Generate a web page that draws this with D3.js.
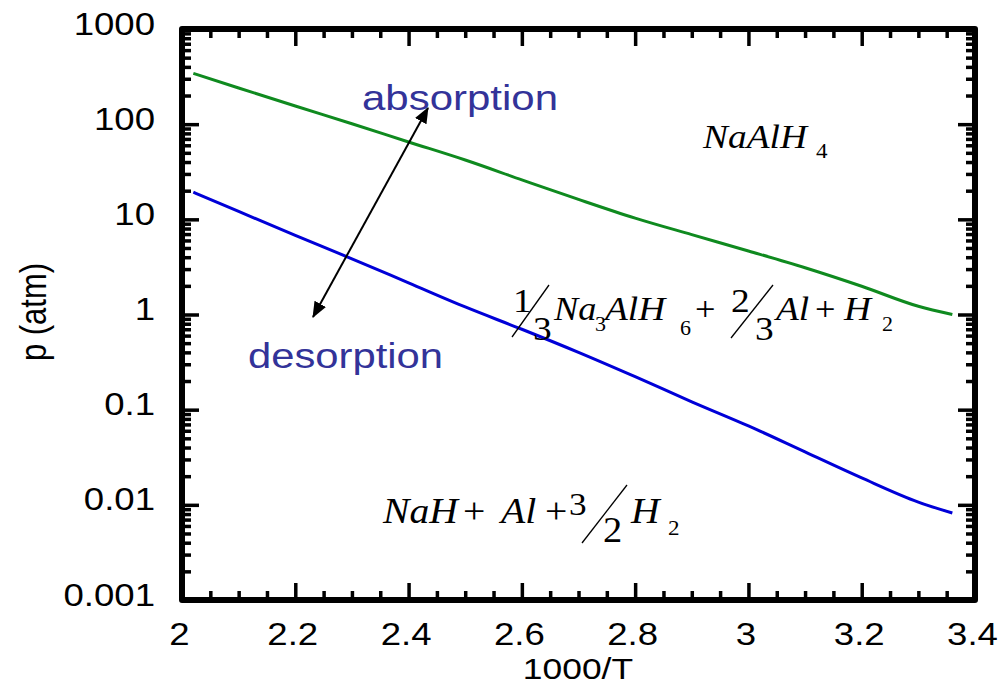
<!DOCTYPE html>
<html><head><meta charset="utf-8">
<script src="https://cdn.jsdelivr.net/npm/d3@7"></script>
<style>
html,body{margin:0;padding:0;background:#fff;}
text{font-family:"Liberation Sans",Arial,sans-serif;}
text.serif{font-family:"Liberation Serif","Times New Roman",Times,serif;font-weight:normal;}
</style></head>
<body><svg id="c" width="1003" height="686"></svg>
<script>
// ---- data ----
const invT = [2.02, 2.1, 2.2, 2.3, 2.4, 2.5, 2.6, 2.7, 2.8, 2.9, 3.0, 3.1, 3.2, 3.3, 3.36];
const pAbsorb = [342, 240, 155, 101, 65, 42, 26, 16.2, 10.3, 6.9, 4.65, 3.1, 1.98, 1.22, 1.0];
const pDesorb = [19.3, 12.1, 6.8, 3.85, 2.15, 1.2, 0.70, 0.40, 0.222, 0.121, 0.0675, 0.0360, 0.0192, 0.0107, 0.0082];
const xTicks = [2, 2.2, 2.4, 2.6, 2.8, 3, 3.2, 3.4];
const yTicks = [0.001, 0.01, 0.1, 1, 10, 100, 1000];
const yTickLabels = ["0.001", "0.01", "0.1", "1", "10", "100", "1000"];

const svg = d3.select("#c");
const L = 182, R = 975, T = 29, B = 600;
const STRETCH = 1.18;
const x = d3.scaleLinear().domain([2, 3.4]).range([L, R]);
const y = d3.scaleLog().domain([0.001, 1000]).range([B, T]);

const xMinor = d3.range(2.05, 3.4, 0.05).map(v => +v.toFixed(2)).filter(v => Math.abs(v*5 - Math.round(v*5)) > 1e-6);
const yMinor = [];
for (let e = -3; e < 3; e++) for (let k = 2; k <= 9; k++) yMinor.push(k * Math.pow(10, e));

function styleAxis(g) {
  g.select(".domain").remove();
  g.selectAll(".tick line").attr("stroke", "#000").attr("stroke-width", 3.5);
}
const fmtIdx = v => yTickLabels[yTicks.findIndex(t => Math.abs(t - v) / v < 1e-6)];

// bottom
svg.append("g").attr("transform", `translate(0,${B})`)
  .call(d3.axisBottom(x).tickValues(xTicks).tickSize(-17).tickFormat(d => d3.format("")(d)))
  .call(styleAxis)
  .call(g => g.selectAll(".tick text").attr("class", "st").attr("font-size", 31).attr("fill", "#000")
    .attr("font-family", "Liberation Sans, Arial, sans-serif").attr("dx", -3).attr("y", 45).attr("dy", null));
svg.append("g").attr("transform", `translate(0,${B})`)
  .call(d3.axisBottom(x).tickValues(xMinor).tickSize(-9).tickFormat("")).call(styleAxis);
// top
svg.append("g").attr("transform", `translate(0,${T})`)
  .call(d3.axisBottom(x).tickValues(xTicks).tickSize(17).tickFormat("")).call(styleAxis);
svg.append("g").attr("transform", `translate(0,${T})`)
  .call(d3.axisBottom(x).tickValues(xMinor).tickSize(9).tickFormat("")).call(styleAxis);
// left
svg.append("g").attr("transform", `translate(${L},0)`)
  .call(d3.axisLeft(y).tickValues(yTicks).tickSize(-17).tickPadding(27).tickFormat(fmtIdx))
  .call(styleAxis)
  .call(g => g.selectAll(".tick text").attr("class", "st").attr("font-size", 31).attr("fill", "#000")
    .attr("font-family", "Liberation Sans, Arial, sans-serif").attr("dy", null).attr("y", 5));
svg.append("g").attr("transform", `translate(${L},0)`)
  .call(d3.axisLeft(y).tickValues(yMinor).tickSize(-9).tickFormat("")).call(styleAxis);
// right
svg.append("g").attr("transform", `translate(${R},0)`)
  .call(d3.axisLeft(y).tickValues(yTicks).tickSize(17).tickFormat("")).call(styleAxis);
svg.append("g").attr("transform", `translate(${R},0)`)
  .call(d3.axisLeft(y).tickValues(yMinor).tickSize(9).tickFormat("")).call(styleAxis);

// frame
svg.append("rect").attr("x", L).attr("y", T).attr("width", R - L).attr("height", B - T)
  .attr("fill", "none").attr("stroke", "#000").attr("stroke-width", 6).attr("stroke-linejoin", "round");

// curves
const line = d3.line().x((d, i) => x(invT[i])).y(d => y(d)).curve(d3.curveMonotoneX);
svg.append("path").datum(pAbsorb).attr("d", line).attr("fill", "none").attr("stroke", "#0f8a1f").attr("stroke-width", 3);
svg.append("path").datum(pDesorb).attr("d", line).attr("fill", "none").attr("stroke", "#0000d8").attr("stroke-width", 3);

// axis titles
svg.append("text").attr("class", "st").attr("x", 578).attr("y", 679).attr("text-anchor", "middle")
  .attr("font-size", 30).text("1000/T");
svg.append("text").attr("transform", `translate(46,312) scale(${STRETCH},1) rotate(-90)`)
  .attr("text-anchor", "middle").attr("font-size", 31).text("p (atm)");

// arrow
const defs = svg.append("defs");
defs.append("marker").attr("id", "ah").attr("viewBox", "0 0 16 13").attr("refX", 15).attr("refY", 6.5)
  .attr("markerWidth", 16).attr("markerHeight", 13).attr("markerUnits", "userSpaceOnUse").attr("orient", "auto-start-reverse")
  .append("path").attr("d", "M0,0 L16,6.5 L0,13 z").attr("fill", "#000");
svg.append("line").attr("x1", 313).attr("y1", 317).attr("x2", 428).attr("y2", 108)
  .attr("stroke", "#000").attr("stroke-width", 2).attr("marker-start", "url(#ah)").attr("marker-end", "url(#ah)");

svg.append("text").attr("x", 362).attr("y", 110).attr("font-size", 35).attr("fill", "#333399")
  .attr("textLength", 196).attr("lengthAdjust", "spacingAndGlyphs").text("absorption");
svg.append("text").attr("x", 248).attr("y", 368).attr("font-size", 35).attr("fill", "#333399")
  .attr("textLength", 195).attr("lengthAdjust", "spacingAndGlyphs").text("desorption");

// math labels (uniform horizontal stretch of natural glyph widths)
const SER = 1.1;
function t(xp, yp, s, size, italic) {
  const e = svg.append("text").attr("class", "serif").attr("x", xp).attr("y", yp).attr("font-size", size)
    .attr("fill", "#000").text(s);
  if (italic) e.attr("font-style", "italic");
  const w = e.node().getComputedTextLength();
  e.attr("textLength", w * SER).attr("lengthAdjust", "spacingAndGlyphs");
  return e;
}
function slash(x1, y1, x2, y2) {
  svg.append("line").attr("x1", x1).attr("y1", y1).attr("x2", x2).attr("y2", y2).attr("stroke", "#000").attr("stroke-width", 1.3);
}
// NaAlH4
t(703, 148, "NaAlH", 34, true);
t(816, 158, "4", 21, false);
// 1/3 Na3AlH6 + 2/3 Al + H2
t(513, 312, "1", 34, false);
slash(512, 337, 549, 285);
t(533, 340, "3", 34, false);
t(554, 320, "Na", 33, true);
t(595, 331, "3", 20, false);
t(605, 320, "AlH", 34, true);
t(680, 335, "6", 20, false);
t(695, 320, "+", 33, false);
t(731, 312, "2", 34, false);
slash(731, 338, 773, 285);
t(755, 340, "3", 34, false);
t(776, 320, "Al", 34, true);
t(815, 320, "+", 33, false);
t(844, 320, "H", 34, true);
t(882, 331, "2", 20, false);
// NaH + Al + 3/2 H2
t(383, 523, "NaH", 36, true);
t(463, 523, "+", 36, false);
t(501, 523, "Al", 36, true);
t(545, 523, "+", 36, false);
t(569, 515, "3", 32, false);
slash(582, 543, 627, 485);
t(603, 542, "2", 35, false);
t(631, 523, "H", 36, true);
t(668, 535, "2", 21, false);

// horizontal stretch for sans text labels
svg.selectAll("text.st").each(function() {
  const w = this.getComputedTextLength();
  d3.select(this).attr("textLength", w * STRETCH).attr("lengthAdjust", "spacingAndGlyphs");
});
</script></body></html>
